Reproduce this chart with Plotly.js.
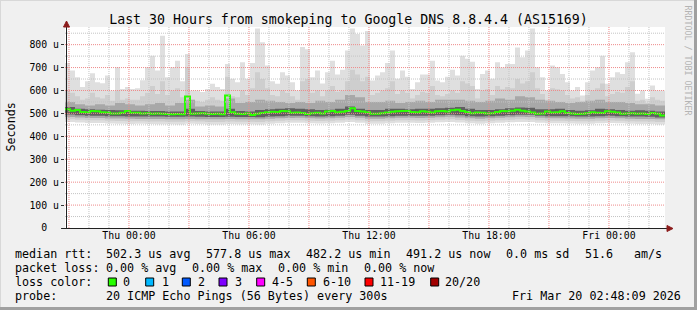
<!DOCTYPE html>
<html>
<head>
<meta charset="utf-8">
<script src="https://cdn.plot.ly/plotly-3.0.1.min.js"></script>
<style>html,body{margin:0;padding:0;background:#f0f0f0;}#chart{width:697px;height:310px;}</style>
</head>
<body>
<div id="chart"></div>
<script>
// ---------------- data ----------------
// 15-minute bins starting 2026-03-18 20:48:09, 120 bins (30 hours)
const medianRtt = [518,512,515,506,505,510,509,505,504,500, 500,503,510,503,503,500,501,499,500,499,
  497,496,497,496,574,499,500,501,499,497, 498,496,578,505,498,497,500,493,498,502,
  505,507,506,510,509,503,504,502,497,501, 503,500,508,510,505,507,511,522,511,508,
  505,498,499,501,504,507,509,510,510,506, 505,509,507,504,509,510,508,514,516,510,
  506,501,504,503,500,501,506,510,509,512, 516,512,508,504,498,500,508,504,505,509,
  502,500,497,499,501,505,503,502,509,507, 504,498,500,501,499,500,497,502,499,491];
const maxRtt = [720,687,658,615,640,675,636,632,665,600, 701,607,615,607,610,645,701,752,687,839,
  658,701,730,640,759,600,600,593,607,629, 615,607,716,651,636,723,651,720,870,810,
  709,640,629,680,665,636,600,790,780,658, 687,630,680,730,670,690,774,870,846,796,
  860,644,665,680,720,774,651,687,660,607, 636,670,670,730,644,636,660,690,665,752,
  738,725,607,672,687,651,723,700,716,716, 788,745,774,870,701,658,600,709,701,672,
  636,600,615,578,636,687,701,752,629,658, 680,672,723,767,586,600,564,622,600,600];
const p90Rtt = [600,590,575,560,565,590,570,565,580,555, 600,560,565,560,560,575,590,620,585,640,
  580,600,610,570,700,560,555,550,560,570, 560,555,660,575,570,600,580,610,680,650,
  610,580,575,600,590,575,560,640,650,590, 600,575,600,620,595,600,640,690,670,640,
  660,580,590,600,610,640,585,600,590,565, 580,595,590,620,580,575,585,600,590,640,
  630,620,565,600,605,580,620,605,615,610, 650,630,640,680,610,585,560,610,605,600,
  580,565,570,555,580,600,610,630,575,585, 595,590,615,640,555,560,545,570,560,555];
// 30-minute bins, 60 bins
const hiMid = [550,540,535,540,535,545,540,535,540,545, 535,545,560,530,535,530,565,545,550,560,
  555,550,545,550,545,555,550,560,580,570, 550,550,555,545,550,555,550,560,560,560,
  555,550,555,565,560,575,570,560,555,550, 545,550,555,560,550,550,545,540,540,535];
const hiDark = [528,520,518,516,515,514,512,512,510,510, 508,508,520,510,508,508,520,510,508,515,
  518,520,522,520,518,515,516,520,530,520, 515,515,520,520,518,520,520,522,525,528,
  520,515,515,518,522,526,525,518,518,520, 515,512,514,520,518,515,512,514,512,508];
const loDark = [495,492,490,490,488,488,487,486,486,486, 485,485,486,485,484,484,485,484,484,483,
  486,488,490,490,488,487,488,490,494,490, 486,486,488,490,490,490,490,492,494,492,
  488,486,488,490,492,494,494,490,488,488, 488,486,486,488,490,488,486,486,485,482];
const loMid = [484,482,480,480,478,478,477,476,476,476, 475,475,476,475,474,474,476,475,475,474,
  477,479,480,481,479,478,479,481,484,481, 477,477,479,481,481,480,481,483,485,482,
  479,477,479,481,483,485,484,481,479,479, 478,477,477,479,480,479,477,476,476,474];
const loLight = [474,472,470,470,468,467,466,466,465,465, 464,464,466,465,463,463,465,464,464,463,
  466,468,470,470,468,467,468,470,473,470, 466,466,468,470,470,469,470,472,474,471,
  468,466,468,470,472,474,473,470,468,468, 467,466,466,468,469,468,466,465,465,463];
const minRtt = [462,460,458,458,456,455,454,455,454,453, 453,452,455,454,452,452,454,453,453,452,
  455,457,459,459,457,456,457,459,462,459, 455,455,457,459,459,458,459,461,463,460,
  457,455,457,459,461,463,462,459,457,457, 456,455,455,457,458,457,455,454,454,452];

const yTickVals = [0,100,200,300,400,500,600,700,800];
const yTickText = ['0  ','100 u','200 u','300 u','400 u','500 u','600 u','700 u','800 u'];
const xTickVals = ['2026-03-19 00:00:00','2026-03-19 06:00:00','2026-03-19 12:00:00','2026-03-19 18:00:00','2026-03-20 00:00:00'];
const xTickText = ['Thu 00:00','Thu 06:00','Thu 12:00','Thu 18:00','Fri 00:00'];

const titleText = 'Last 30 Hours from smokeping to Google DNS 8.8.4.4 (AS15169)';
const lossLabels = ['0','1','2','3','4-5','6-10','11-19','20/20'];
const lossColors = ['#26ff00','#00b8ff','#0059ff','#7e00ff','#ff00ff','#ff5500','#ff0000','#a10000'];
const row1 = [[16,'median rtt:'],[107.3,'502.3 us avg'],[207.3,'577.8 us max'],[306.5,'482.2 us min'],[407.3,'491.2 us now'],[507.3,'0.0 ms sd'],[586,'51.6'],[635.3,'am/s']];
const row2 = [[16,'packet loss:'],[107.3,'0.00 % avg'],[193.3,'0.00 % max'],[279.3,'0.00 % min'],[365,'0.00 % now']];
const row4 = [[16,'probe:'],[107.3,'20 ICMP Echo Pings (56 Bytes) every 300s'],[513.3,'Fri Mar 20 02:48:09 2026']];

// ---------------- layout geometry ----------------
const FW=697, FH=310, L=65, R=665, T=27, B=228, W=R-L, H=B-T;
const pxX = p => (p-L)/W, pxY = p => (B-p)/H;
const MONO = 'DejaVu Sans Mono';
const startMs = Date.UTC(2026,2,18,20,48,9), endMs = startMs + 30*3600e3;
const fmt = ms => new Date(ms).toISOString().replace('T',' ').slice(0,19);
const times = (n, stepMin) => { const a=[]; for(let i=0;i<=n;i++) a.push(fmt(startMs+i*stepMin*60e3)); return a; };
const t15 = times(120,15), t30 = times(60,30);
const ext = a => a.concat([a[a.length-1]]);

function band(x, arr, color){
  return {x:x, y:ext(arr), type:'scatter', mode:'lines', line:{width:0, shape:'hv'},
          fill:'tozeroy', fillcolor:color, hoverinfo:'skip', showlegend:false};
}
const traces = [
  band(t15, maxRtt, '#dfdfdf'),
  band(t15, p90Rtt, '#cecece'),
  band(t30, hiMid, '#a8a8a8'),
  band(t30, hiDark, '#606060'),
  band(t30, loDark, '#a8a8a8'),
  band(t30, loMid, '#cecece'),
  band(t30, loLight, '#dfdfdf'),
  band(t30, minRtt, '#ffffff'),
  {x:t15, y:ext(medianRtt), type:'scatter', mode:'lines', line:{color:'#2aff00', width:2, shape:'hv'},
   hoverinfo:'skip', showlegend:false}
];

// ---------------- shapes ----------------
const shapes = [];
const firstHour = Date.UTC(2026,2,18,21,0,0);
const vMinor=[], vMajor=[];
for(let ms=firstHour; ms<endMs; ms+=3600e3){ const h=new Date(ms).getUTCHours(); (h%3===0?vMajor:vMinor).push(fmt(ms)); }
const hMinor=[], hMajor=[];
for(let v=50; v<=850; v+=50){ (v%100===0?hMajor:hMinor).push(v); }
const gl = (c)=>({color:c, width:1, dash:'1px,1px'});
vMinor.forEach(t=>shapes.push({type:'line', xref:'x', yref:'paper', x0:t, x1:t, y0:0, y1:1, line:gl('#c4c4c4'), layer:'above'}));
hMinor.forEach(v=>shapes.push({type:'line', xref:'paper', yref:'y', x0:0, x1:1, y0:v, y1:v, line:gl('#c4c4c4'), layer:'above'}));
vMajor.forEach(t=>shapes.push({type:'line', xref:'x', yref:'paper', x0:t, x1:t, y0:0, y1:1, line:gl('#ee8a8a'), layer:'above'}));
hMajor.forEach(v=>shapes.push({type:'line', xref:'paper', yref:'y', x0:0, x1:1, y0:v, y1:v, line:gl('#ee8a8a'), layer:'above'}));
shapes.push({type:'line', xref:'paper', yref:'paper', x0:pxX(66.5), x1:pxX(66.5), y0:pxY(229), y1:pxY(23), line:{color:'#222', width:1}, layer:'above'});
shapes.push({type:'line', xref:'paper', yref:'paper', x0:pxX(62), x1:pxX(668), y0:pxY(228.5), y1:pxY(228.5), line:{color:'#222', width:1}, layer:'above'});
const arrowUp = `M ${pxX(63.5)} ${pxY(27)} L ${pxX(69.5)} ${pxY(27)} L ${pxX(66.5)} ${pxY(21)} Z`;
const arrowRight = `M ${pxX(667)} ${pxY(225.5)} L ${pxX(667)} ${pxY(231.5)} L ${pxX(673)} ${pxY(228.5)} Z`;
shapes.push({type:'path', xref:'paper', yref:'paper', path:arrowUp, fillcolor:'#8c1c1c', line:{color:'#8c1c1c', width:1}, layer:'above'});
shapes.push({type:'path', xref:'paper', yref:'paper', path:arrowRight, fillcolor:'#8c1c1c', line:{color:'#8c1c1c', width:1}, layer:'above'});
const boxX = [108.3,145.7,182.3,219,256.7,307.3,365,430.7];
boxX.forEach((bx,i)=>shapes.push({type:'rect', xref:'paper', yref:'paper', x0:pxX(bx), x1:pxX(bx+8), y0:pxY(286), y1:pxY(278),
  fillcolor:lossColors[i], line:{color:'#000', width:1}, layer:'above'}));
shapes.push({type:'line', xref:'paper', yref:'paper', x0:pxX(0), x1:pxX(FW), y0:pxY(0.5), y1:pxY(0.5), line:{color:'#d8d8d8', width:1}, layer:'below'});
shapes.push({type:'line', xref:'paper', yref:'paper', x0:pxX(0.5), x1:pxX(0.5), y0:pxY(0), y1:pxY(FH), line:{color:'#d8d8d8', width:1}, layer:'below'});
shapes.push({type:'line', xref:'paper', yref:'paper', x0:pxX(0), x1:pxX(FW), y0:pxY(FH-1.5), y1:pxY(FH-1.5), line:{color:'#a0a0a0', width:3}, layer:'below'});
shapes.push({type:'line', xref:'paper', yref:'paper', x0:pxX(FW-1.5), x1:pxX(FW-1.5), y0:pxY(0), y1:pxY(FH), line:{color:'#a0a0a0', width:3}, layer:'below'});

// ---------------- annotations ----------------
const nb = s => s.replace(/ /g,'\u00a0');
const annotations = [];
function txt(x,y,s,opt){ annotations.push(Object.assign({xref:'paper', yref:'paper', x:pxX(x-1), y:pxY(y), text:nb(s), showarrow:false,
  xanchor:'left', yanchor:'middle', borderpad:0, borderwidth:0, font:{family:MONO, size:11.7, color:'#000'}}, opt||{})); }
row1.forEach(([x,s])=>txt(x,254.3,s));
row2.forEach(([x,s])=>txt(x,268.3,s));
txt(16,282,'loss color:');
const labX = [124,162.7,199.3,236,273.3,324,380.7,446];
labX.forEach((x,i)=>txt(x,282,lossLabels[i]));
row4.forEach(([x,s])=>txt(x,296,s));
annotations.push({xref:'paper', yref:'paper', x:pxX(10), y:pxY(127.5), text:'Seconds', textangle:-90, showarrow:false,
  xanchor:'center', yanchor:'middle', font:{family:MONO, size:11.7, color:'#000'}});
annotations.push({xref:'paper', yref:'paper', x:pxX(687.5), y:pxY(60), text:nb('RRDTOOL / TOBI OETIKER'), textangle:90, showarrow:false,
  xanchor:'center', yanchor:'middle', font:{family:MONO, size:8.3, color:'#b4b4b4'}});

const layout = {
  width:FW, height:FH, margin:{l:L, r:FW-R, t:T, b:FH-B, pad:0},
  paper_bgcolor:'#f0f0f0', plot_bgcolor:'#ffffff', showlegend:false,
  title:{text:titleText, font:{family:MONO, size:13.25, color:'#000'}, x:0.5, xref:'container', xanchor:'center',
         y:1-19/FH, yref:'container', yanchor:'middle'},
  xaxis:{type:'date', range:[fmt(startMs), fmt(endMs)], showgrid:false, zeroline:false, showline:false,
         tickmode:'array', tickvals:xTickVals, ticktext:xTickText, ticks:'', tickfont:{family:MONO, size:9.85, color:'#000'},
         fixedrange:true},
  yaxis:{range:[0,877], showgrid:false, zeroline:false, showline:false, tickmode:'array', tickvals:yTickVals,
         ticktext:yTickText.map(nb), ticks:'outside', ticklen:3, tickcolor:'#333', tickfont:{family:MONO, size:9.85, color:'#000'},
         fixedrange:true},
  shapes:shapes, annotations:annotations
};
Plotly.newPlot('chart', traces, layout, {staticPlot:true, displayModeBar:false});
</script>
</body>
</html>
